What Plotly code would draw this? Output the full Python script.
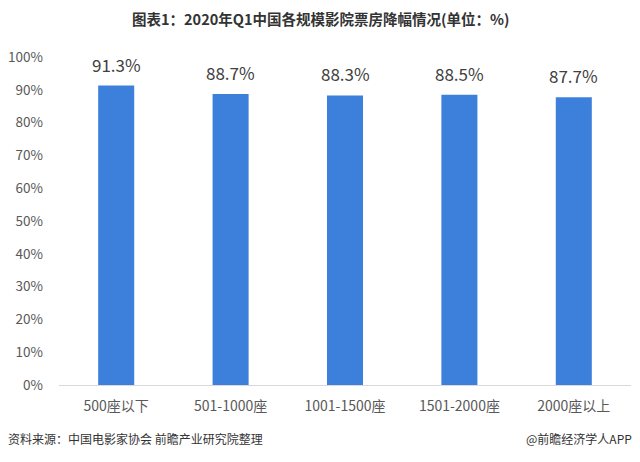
import plotly.graph_objects as go

categories = ["500座以下", "501-1000座", "1001-1500座", "1501-2000座", "2000座以上"]
values = [91.3, 88.7, 88.3, 88.5, 87.7]
tick_vals = [0, 10, 20, 30, 40, 50, 60, 70, 80, 90, 100]
tick_text = [f"{v}%" for v in tick_vals]

FONT = "Noto Sans CJK SC, Noto Sans, sans-serif"

W, H = 640, 462
L, R, T, B = 59, 9, 57, 77

fig = go.Figure(go.Bar(
    x=categories, y=values,
    marker=dict(color="#3d80dc", line=dict(width=0)),
    cliponaxis=False,
    hoverinfo="x+y",
))

plot_h = H - T - B
plot_w = W - L - R
def py(ypix):
    return (H - B - ypix) / plot_h
def px(xpix):
    return (xpix - L) / plot_w

annotations = [
    dict(x=c, y=v, xref="x", yref="y", text=f"{v:.1f}%", showarrow=False,
         yanchor="bottom", xanchor="center", yshift=7,
         font=dict(size=17, color="#404040", family=FONT))
    for c, v in zip(categories, values)
]
annotations += [
    dict(text="<b>图表1：2020年Q1中国各规模影院票房降幅情况(单位：%)</b>",
         xref="paper", yref="paper", x=px(320), y=py(18), xanchor="center", yanchor="middle",
         showarrow=False, font=dict(size=14.5, color="#333333", family=FONT)),
    dict(text="资料来源：中国电影家协会 前瞻产业研究院整理",
         xref="paper", yref="paper", x=px(6), y=py(438), xanchor="left", yanchor="middle",
         showarrow=False, font=dict(size=12, color="#333333", family=FONT)),
    dict(text="@前瞻经济学人APP",
         xref="paper", yref="paper", x=px(634), y=py(438), xanchor="right", yanchor="middle",
         showarrow=False, font=dict(size=12, color="#333333", family=FONT)),
]

fig.update_layout(
    width=W, height=H,
    margin=dict(l=L, r=R, t=T, b=B),
    paper_bgcolor="white", plot_bgcolor="white",
    bargap=0.685,
    showlegend=False,
    font=dict(family=FONT, color="#595959"),
    xaxis=dict(showgrid=False, showline=True, linecolor="#d9d9d9", linewidth=1,
               tickfont=dict(size=14, color="#595959"), ticks="", ticklabelstandoff=8),
    yaxis=dict(range=[0, 100], tickvals=tick_vals, ticktext=tick_text,
               showgrid=False, zeroline=False, showline=False,
               tickfont=dict(size=13.5, color="#595959"), ticks="", ticklabelstandoff=15),
    annotations=annotations,
)

fig.write_html("out.html")
